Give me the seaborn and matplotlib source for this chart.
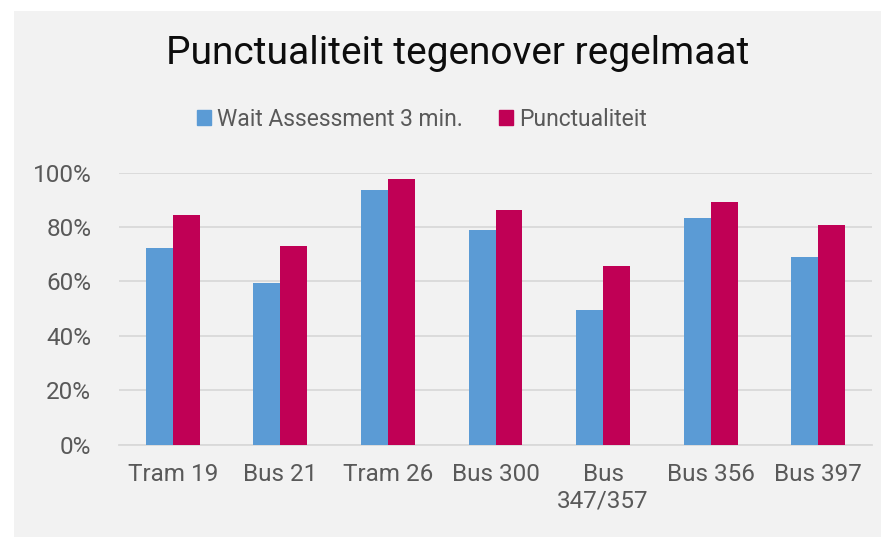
import pandas as pd
import matplotlib.pyplot as plt
import matplotlib.patches as mpatches
import seaborn as sns
from matplotlib.ticker import PercentFormatter

# --- data ---
lines = ['Tram 19', 'Bus 21', 'Tram 26', 'Bus 300', 'Bus\n347/357', 'Bus 356', 'Bus 397']
wait_assessment = [0.722, 0.594, 0.938, 0.789, 0.494, 0.834, 0.689]
punctualiteit = [0.843, 0.731, 0.975, 0.863, 0.656, 0.894, 0.807]
series_names = ['Wait Assessment 3 min.', 'Punctualiteit']
colors = ['#5b9bd5', '#c00055']

df = pd.DataFrame({
    'Lijn': lines * 2,
    'Waarde': wait_assessment + punctualiteit,
    'Reeks': [series_names[0]] * len(lines) + [series_names[1]] * len(lines),
})

sns.set_style('white')
plt.rcParams['font.family'] = ['Roboto', 'DejaVu Sans']
text_grey = '#595959'
grid_grey = '#d9d9d9'
bg = '#f2f2f2'

fig = plt.figure(figsize=(8.81, 5.37), dpi=100, facecolor='white')
# grey chart area (white margin on top and left, as in the reference)
fig.patches.append(mpatches.Rectangle((14 / 881, 0), 1 - 14 / 881, 1 - 11 / 537,
                                      transform=fig.transFigure, facecolor=bg,
                                      edgecolor='none', zorder=-1))

ax = fig.add_axes([119 / 881, 92.5 / 537, 753 / 881, 271.8 / 537])
ax.set_facecolor(bg)

sns.barplot(data=df, x='Lijn', y='Waarde', hue='Reeks', palette=colors,
            width=0.5, ax=ax, legend=False, zorder=3, linewidth=0, saturation=1)

ax.set_ylim(0, 1)
ax.set_yticks([0, 0.2, 0.4, 0.6, 0.8, 1.0])
ax.yaxis.set_major_formatter(PercentFormatter(1.0, decimals=0))
ax.grid(axis='y', color=grid_grey, linewidth=1.3, zorder=0)
ax.set_axisbelow(True)
for side in ['top', 'right', 'left']:
    ax.spines[side].set_visible(False)
ax.spines['bottom'].set_color(grid_grey)
ax.spines['bottom'].set_linewidth(1.3)
ax.set_xlabel('')
ax.set_ylabel('')
ax.tick_params(axis='both', length=0, labelsize=17.5, labelcolor=text_grey)
ax.tick_params(axis='x', pad=13)
ax.tick_params(axis='y', pad=20)
ax.set_xlim(-0.5, len(lines) - 0.5)

fig.text(458 / 881, 1 - 53 / 537, 'Punctualiteit tegenover regelmaat',
         ha='center', va='center', fontsize=28, color='#0d0d0d')

handles = [mpatches.Patch(color=c, label=n) for c, n in zip(colors, series_names)]
fig.legend(handles=handles, loc='center', bbox_to_anchor=(422 / 881, 1 - 119 / 537),
           ncol=2, frameon=False, fontsize=16.5, labelcolor=text_grey,
           handlelength=0.6, handleheight=0.6, handletextpad=0.25,
           columnspacing=1.6, borderpad=0, borderaxespad=0)

fig.savefig('out.png', dpi=100, facecolor='white')
